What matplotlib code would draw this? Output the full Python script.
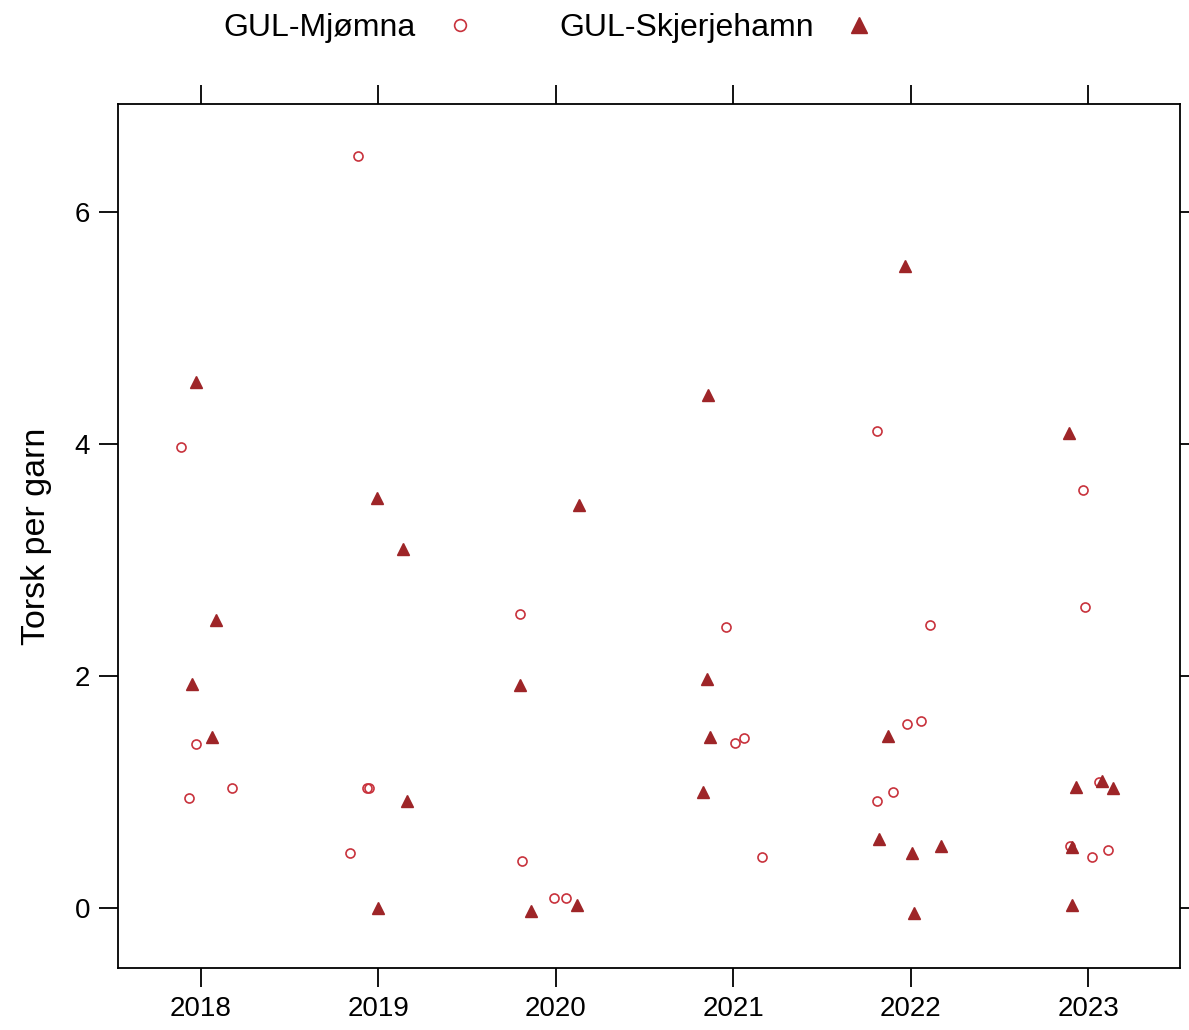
import numpy as np
import matplotlib
matplotlib.use("Agg")
import matplotlib.pyplot as plt

plt.rcParams['font.family'] = ['Liberation Sans', 'DejaVu Sans']

# ---- data (decimal year, torsk per garn) ----
mj_x = [2017.887, 2017.93, 2017.97, 2018.175,
        2018.887, 2018.84, 2018.935, 2018.945,
        2019.80, 2019.81, 2019.99, 2020.06,
        2020.96, 2021.01, 2021.06, 2021.16,
        2021.81, 2021.81, 2021.90, 2021.98, 2022.06, 2022.11,
        2022.97, 2022.98, 2022.90, 2023.06, 2023.02, 2023.11]
mj_y = [3.97, 0.95, 1.41, 1.03,
        6.48, 0.47, 1.03, 1.03,
        2.53, 0.40, 0.08, 0.08,
        2.42, 1.42, 1.46, 0.44,
        4.11, 0.92, 1.00, 1.58, 1.61, 2.44,
        3.60, 2.59, 0.53, 1.08, 0.44, 0.50]

sk_x = [2017.97, 2017.95, 2018.085, 2018.06,
        2018.99, 2019.14, 2019.16, 2019.00,
        2019.80, 2019.86, 2020.13, 2020.12,
        2020.86, 2020.85, 2020.87, 2020.83,
        2021.97, 2021.82, 2021.87, 2022.01, 2022.02, 2022.17,
        2022.89, 2022.93, 2023.08, 2023.14, 2022.91, 2022.91]
sk_y = [4.53, 1.93, 2.48, 1.47,
        3.53, 3.09, 0.92, 0.00,
        1.92, -0.03, 3.47, 0.02,
        4.42, 1.97, 1.47, 1.00,
        5.53, 0.59, 1.48, 0.47, -0.05, 0.53,
        4.09, 1.04, 1.09, 1.03, 0.52, 0.02]

years = [2018, 2019, 2020, 2021, 2022, 2023]
yticks = [0, 2, 4, 6]

col_mj = '#C8323C'
col_sk = '#9E2528'

fig = plt.figure(figsize=(11.89, 10.30), dpi=100)
ax = fig.add_axes([0.0992, 0.0602, 0.8932, 0.8388])

ax.plot(mj_x, mj_y, linestyle='none', marker='o', markersize=6.5,
        markerfacecolor='none', markeredgecolor=col_mj, markeredgewidth=1.2,
        label='GUL-Mjømna')
ax.plot(sk_x, sk_y, linestyle='none', marker='^', markersize=8.5,
        color=col_sk, label='GUL-Skjerjehamn')

ax.set_xlim(2017.532, 2023.518)
ax.set_ylim(-0.52, 6.93)
ax.set_xticks(years)
ax.set_xticklabels([str(y) for y in years])
ax.set_yticks(yticks)
ax.tick_params(axis='both', which='both', direction='out', length=14, width=1.3,
               labelsize=20, top=True, right=True, pad=6)
for s in ax.spines.values():
    s.set_linewidth(1.3)
ax.set_ylabel('Torsk per garn', fontsize=24.5, labelpad=16)

fig.legend(loc='upper left', bbox_to_anchor=(0.177, 1.0), ncol=2,
           frameon=False, markerfirst=False, fontsize=23, markerscale=1.3,
           handletextpad=0.4, columnspacing=2.1, borderaxespad=0.0)

fig.savefig('out.png', dpi=100)
